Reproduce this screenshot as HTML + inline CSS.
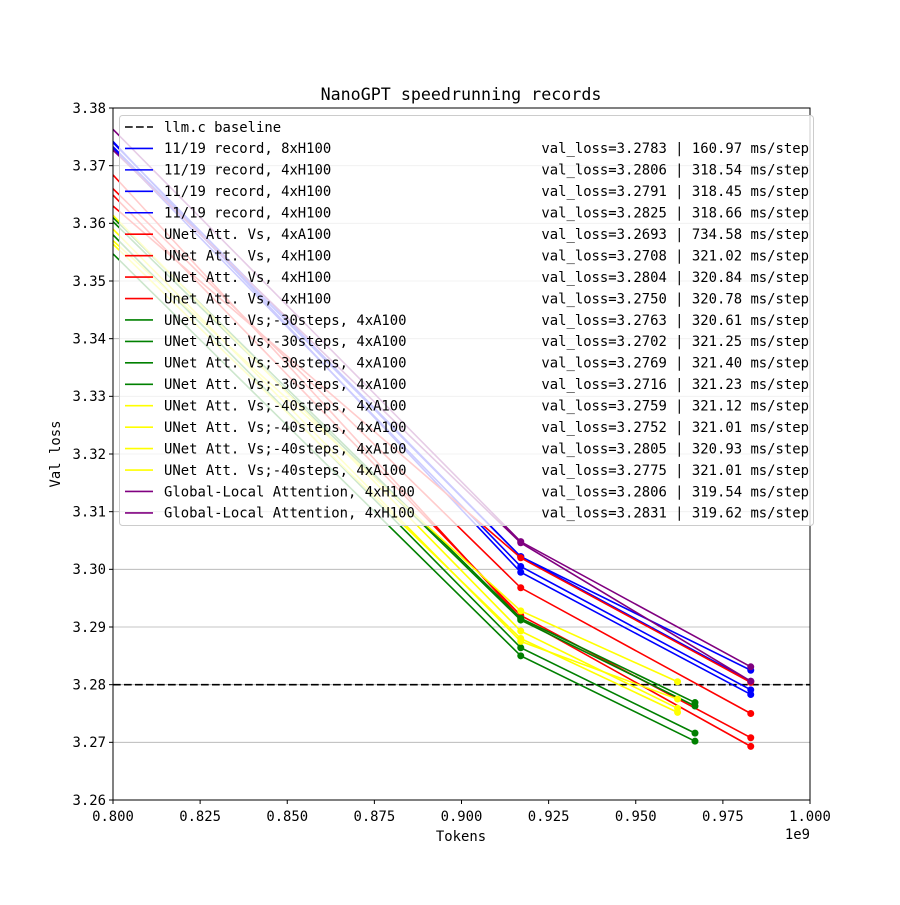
<!DOCTYPE html>
<html><head><meta charset="utf-8"><style>
body{margin:0;background:#fff}
svg text{font-family:"DejaVu Sans Mono","Liberation Mono",monospace}
</style></head><body>
<svg id="chart" width="900" height="900" xmlns="http://www.w3.org/2000/svg"></svg>
<script>
const labels=["11/19 record, 8xH100","11/19 record, 4xH100","11/19 record, 4xH100","11/19 record, 4xH100","UNet Att. Vs, 4xA100","UNet Att. Vs, 4xH100","UNet Att. Vs, 4xH100","Unet Att. Vs, 4xH100","UNet Att. Vs;-30steps, 4xA100","UNet Att. Vs;-30steps, 4xA100","UNet Att. Vs;-30steps, 4xA100","UNet Att. Vs;-30steps, 4xA100","UNet Att. Vs;-40steps, 4xA100","UNet Att. Vs;-40steps, 4xA100","UNet Att. Vs;-40steps, 4xA100","UNet Att. Vs;-40steps, 4xA100","Global-Local Attention, 4xH100","Global-Local Attention, 4xH100"];
const colors=["blue","blue","blue","blue","red","red","red","red","green","green","green","green","yellow","yellow","yellow","yellow","purple","purple"];
const msStep=["160.97","318.54","318.45","318.66","734.58","321.02","320.84","320.78","320.61","321.25","321.40","321.23","321.12","321.01","320.93","321.01","319.54","319.62"];
const startVals=[3.3742,3.3733,3.3730,3.3740,3.3684,3.3649,3.3630,3.3660,3.3603,3.3547,3.3610,3.3580,3.3614,3.3564,3.3570,3.3590,3.3727,3.3763];
const midVals=[3.2995,3.3022,3.3005,3.3022,3.2915,3.2920,3.3020,3.2968,3.2912,3.2850,3.2915,3.2864,3.2893,3.2880,3.2928,3.2875,3.3046,3.3048];
const endVals=[3.2783,3.2806,3.2791,3.2825,3.2693,3.2708,3.2804,3.2750,3.2763,3.2702,3.2769,3.2716,3.2759,3.2752,3.2805,3.2775,3.2806,3.2831];
const endTok=[0.983,0.983,0.983,0.983,0.983,0.983,0.983,0.983,0.967,0.967,0.967,0.967,0.962,0.962,0.962,0.962,0.983,0.983];
const startTok=0.8, midTok=0.917, baseline=3.28;
const xTicks=["0.800","0.825","0.850","0.875","0.900","0.925","0.950","0.975","1.000"];
const yTicks=["3.26","3.27","3.28","3.29","3.30","3.31","3.32","3.33","3.34","3.35","3.36","3.37","3.38"];
const svg=document.getElementById('chart');const NS="http://www.w3.org/2000/svg";
const L=113,R=810,T=108,B=800,FS=13.9,DASH='7.7,3.3';
const X=v=>L+(v-0.8)/0.2*(R-L), Y=v=>T+(3.38-v)/0.12*(B-T);
function mk(t,a,p){const e=document.createElementNS(NS,t);for(const k in a)e.setAttribute(k,a[k]);(p||svg).appendChild(e);return e;}
const clip=mk('clipPath',{id:'pc'});mk('rect',{x:L,y:T,width:R-L,height:B-T},clip);
yTicks.forEach(t=>{const y=Y(+t);
 const g=mk('line',{x1:L,x2:R,y1:y,y2:y,stroke:'#b0b0b0','stroke-width':0.8});
 
 
 mk('line',{x1:L-4,x2:L,y1:y,y2:y,stroke:'#000'});
 const tx=mk('text',{x:L-7,y:y+4.8,'text-anchor':'end','font-size':FS});tx.textContent=t;
 
 });
xTicks.forEach(t=>{const x=X(+t);
 mk('line',{x1:x,x2:x,y1:B,y2:B+4,stroke:'#000'});
 const tx=mk('text',{x:x,y:B+21,'text-anchor':'middle','font-size':FS});tx.textContent=t;
 
 });
const pg=mk('g',{'clip-path':'url(#pc)'});
const bl=mk('line',{x1:L,x2:R,y1:Y(baseline),y2:Y(baseline),stroke:'#000','stroke-width':1.6,'stroke-dasharray':DASH},pg);


for(let i=0;i<labels.length;i++){
 const s=mk('g',{},pg);
 
 
 mk('polyline',{points:`${X(startTok)},${Y(startVals[i])} ${X(midTok)},${Y(midVals[i])} ${X(endTok[i])},${Y(endVals[i])}`,fill:'none',stroke:colors[i],'stroke-width':1.6},s);
 [[midTok,midVals[i]],[endTok[i],endVals[i]]].forEach(p=>{const c=mk('circle',{cx:X(p[0]),cy:Y(p[1]),r:3.5,fill:colors[i]},s);
  
  });
}
mk('rect',{x:L,y:T,width:R-L,height:B-T,fill:'none',stroke:'#000','stroke-width':1});
const lg=mk('g',{});


mk('rect',{x:119.5,y:115.5,width:694,height:410,rx:3,fill:'#fff','fill-opacity':0.8,stroke:'#ccc'},lg);
const rows=[{c:'#000',d:true,l:'llm.c baseline',v:''}].concat(labels.map((l,i)=>({c:colors[i],l:l,v:`val_loss=${endVals[i].toFixed(4)} | ${msStep[i]} ms/step`})));
rows.forEach((r,i)=>{const y=127+21.44*i;
 const e=mk('g',{},lg);
 
 
 const ln=mk('line',{x1:125,x2:153,y1:y,y2:y,stroke:r.c,'stroke-width':1.6},e);
 if(r.d)ln.setAttribute('stroke-dasharray',DASH);
 const t=mk('text',{x:164,y:y+4.8,'font-size':FS},e);t.textContent=r.l;
 if(r.v){const v=mk('text',{x:809,y:y+4.8,'font-size':FS,'text-anchor':'end'},e);v.textContent=r.v;}
});
const ti=mk('text',{x:461,y:100,'text-anchor':'middle','font-size':16.67});ti.textContent='NanoGPT speedrunning records';


const xt=mk('text',{x:461,y:841,'text-anchor':'middle','font-size':FS});xt.textContent='Tokens';


const ex=mk('text',{x:810,y:839,'text-anchor':'end','font-size':FS});ex.textContent='1e9';


const yt=mk('text',{x:60,y:454,'text-anchor':'middle','font-size':FS,transform:'rotate(-90 60 454)'});yt.textContent='Val loss';


</script>
</body></html>
